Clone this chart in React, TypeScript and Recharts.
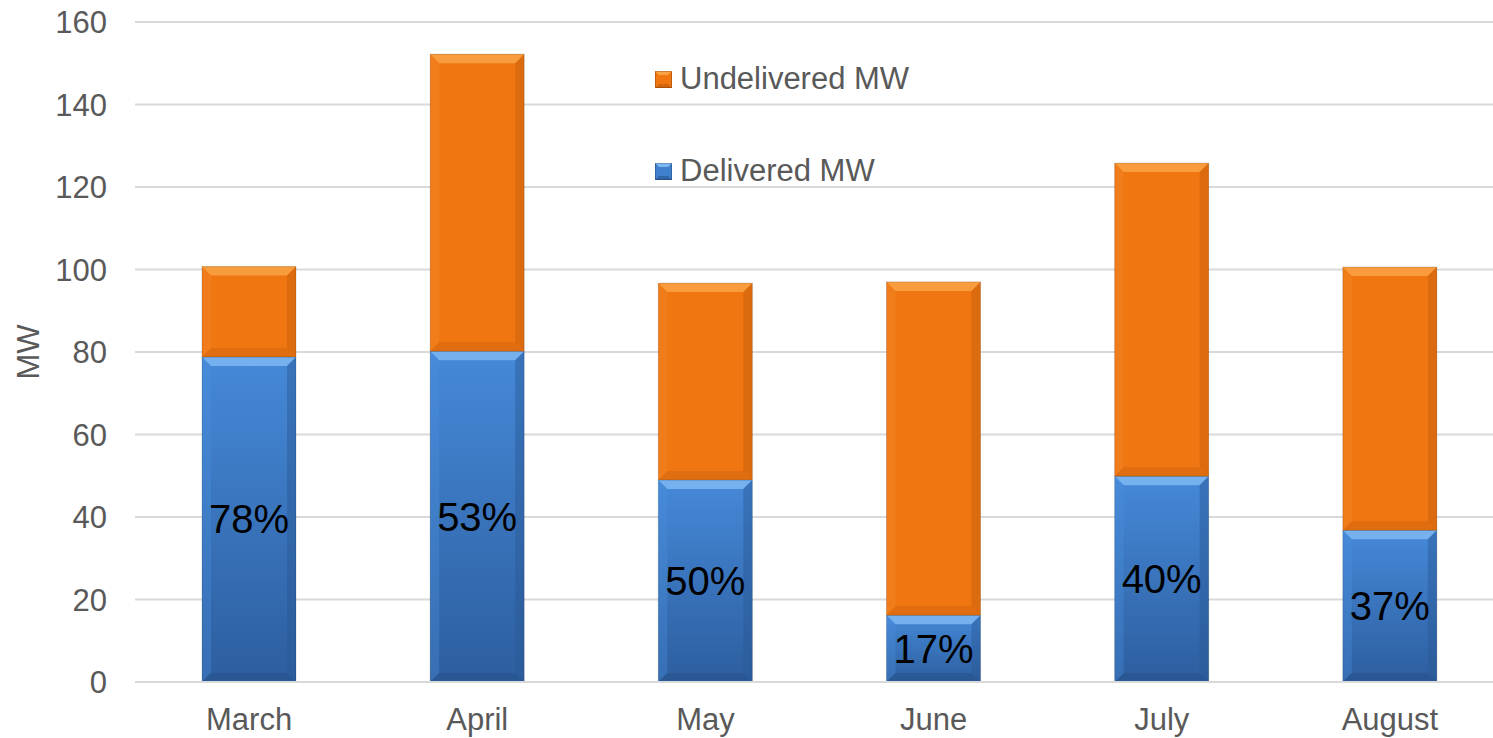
import React from 'react';
import { BarChart, Bar, XAxis, YAxis, CartesianGrid, Legend, LabelList } from 'recharts';

const months = ['March', 'April', 'May', 'June', 'July', 'August'];
const delivered = [78.8, 80.2, 49.0, 16.2, 49.9, 36.8];
const undelivered = [21.9, 72.0, 47.7, 80.8, 75.9, 63.8];
const pctLabels = ['78%', '53%', '50%', '17%', '40%', '37%'];
const yTicks = [0, 20, 40, 60, 80, 100, 120, 140, 160];

const data = months.map((m, i) => ({
  month: m,
  delivered: delivered[i],
  undelivered: undelivered[i],
  pct: pctLabels[i],
}));

const FONT = 'Arial, "Liberation Sans", sans-serif';
const AXIS_GREY = '#595959';

type Palette = { top: string; left: string; right: string; bottom: string; fill: string };

const orangePal: Palette = {
  top: '#f9a345',
  left: '#f48a2a',
  right: '#c45d0b',
  bottom: '#cf640d',
  fill: '#f07611',
};
const bluePal: Palette = {
  top: '#7db8f2',
  left: '#4a8fdc',
  right: '#2a5894',
  bottom: '#254f86',
  fill: 'url(#blueGrad)',
};

function makeBevel(p: Palette) {
  return (props: any) => {
    const { x, y, width, height } = props;
    if (!width || !height || height <= 0) return null;
    const b = Math.min(9, height / 2, width / 2);
    const x2 = x + width;
    const y2 = y + height;
    return (
      <g>
        <rect x={x} y={y} width={width} height={height} fill={p.fill} />
        <polygon points={`${x},${y} ${x2},${y} ${x2 - b},${y + b} ${x + b},${y + b}`} fill={p.top} opacity={0.85} />
        <polygon points={`${x},${y} ${x + b},${y + b} ${x + b},${y2 - b} ${x},${y2}`} fill={p.left} opacity={0.35} />
        <polygon points={`${x2},${y} ${x2},${y2} ${x2 - b},${y2 - b} ${x2 - b},${y + b}`} fill={p.right} opacity={0.45} />
        <polygon points={`${x},${y2} ${x2},${y2} ${x2 - b},${y2 - b} ${x + b},${y2 - b}`} fill={p.bottom} opacity={0.5} />
        <rect x={x} y={y} width={width} height={height} fill="none" stroke="rgba(0,0,0,0.15)" strokeWidth={1} />
      </g>
    );
  };
}

const OrangeShape = makeBevel(orangePal);
const BlueShape = makeBevel(bluePal);

const PctLabel = (props: any) => {
  const { x, y, width, height, value } = props;
  return (
    <text
      x={x + width / 2}
      y={y + height / 2}
      textAnchor="middle"
      dominantBaseline="central"
      fontSize={40}
      fontFamily={FONT}
      fill="#000000"
    >
      {value}
    </text>
  );
};

const legendItems = [
  { label: 'Undelivered MW', c1: '#f9a345', c2: '#f07611', c3: '#c45d0b' },
  { label: 'Delivered MW', c1: '#7db8f2', c2: '#3f80cc', c3: '#2a5894' },
];

const LegendContent = () => (
  <div style={{ fontFamily: FONT }}>
    {legendItems.map((it, i) => (
      <div
        key={it.label}
        style={{ display: 'flex', alignItems: 'center', height: 36, marginBottom: i === 0 ? 56 : 0 }}
      >
        <svg width={17} height={17} style={{ marginRight: 8, flexShrink: 0, display: 'block' }}>
          <rect x={0} y={0} width={17} height={17} fill={it.c2} />
          <polygon points="0,0 17,0 13,4 4,4" fill={it.c1} />
          <polygon points="0,17 17,17 13,13 4,13" fill={it.c3} opacity={0.7} />
          <rect x={0.5} y={0.5} width={16} height={16} fill="none" stroke="rgba(0,0,0,0.2)" />
        </svg>
        <span style={{ fontSize: 31, color: AXIS_GREY, whiteSpace: 'nowrap' }}>{it.label}</span>
      </div>
    ))}
  </div>
);

export default function App() {
  return (
    <div
      style={{
        position: 'absolute',
        left: 0,
        top: 0,
        width: 1493,
        height: 738,
        overflow: 'hidden',
        background: '#ffffff',
      }}
    >
      <BarChart
        width={1504}
        height={738}
        data={data}
        margin={{ top: 22, right: 0, left: 0, bottom: 0 }}
        barSize={94}
      >
        <defs>
          <linearGradient id="blueGrad" x1="0" y1="0" x2="0" y2="1">
            <stop offset="0%" stopColor="#4589d8" />
            <stop offset="100%" stopColor="#2d5e9f" />
          </linearGradient>
        </defs>
        <CartesianGrid vertical={false} stroke="#d9d9d9" strokeWidth={2} />
        <XAxis
          dataKey="month"
          height={56}
          axisLine={{ stroke: '#d9d9d9', strokeWidth: 2 }}
          tickLine={false}
          tickSize={6}
          tickMargin={20}
          tick={{ fill: AXIS_GREY, fontSize: 31, fontFamily: FONT }}
        />
        <YAxis
          width={135}
          domain={[0, 160]}
          ticks={yTicks}
          axisLine={false}
          tickLine={false}
          tickSize={6}
          tickMargin={22}
          tick={{ fill: AXIS_GREY, fontSize: 31, fontFamily: FONT }}
          label={{
            value: 'MW',
            angle: -90,
            position: 'center',
            dx: -40,
            fill: AXIS_GREY,
            fontSize: 31,
            fontFamily: FONT,
          }}
        />
        <Legend
          verticalAlign="middle"
          align="center"
          layout="horizontal"
          content={<LegendContent />}
          wrapperStyle={{ position: 'absolute', left: 655, top: 61, width: 'auto', height: 'auto' }}
        />
        <Bar dataKey="delivered" name="Delivered MW" stackId="a" shape={BlueShape} isAnimationActive={false}>
          <LabelList dataKey="pct" content={PctLabel} />
        </Bar>
        <Bar dataKey="undelivered" name="Undelivered MW" stackId="a" shape={OrangeShape} isAnimationActive={false} />
      </BarChart>
    </div>
  );
}
